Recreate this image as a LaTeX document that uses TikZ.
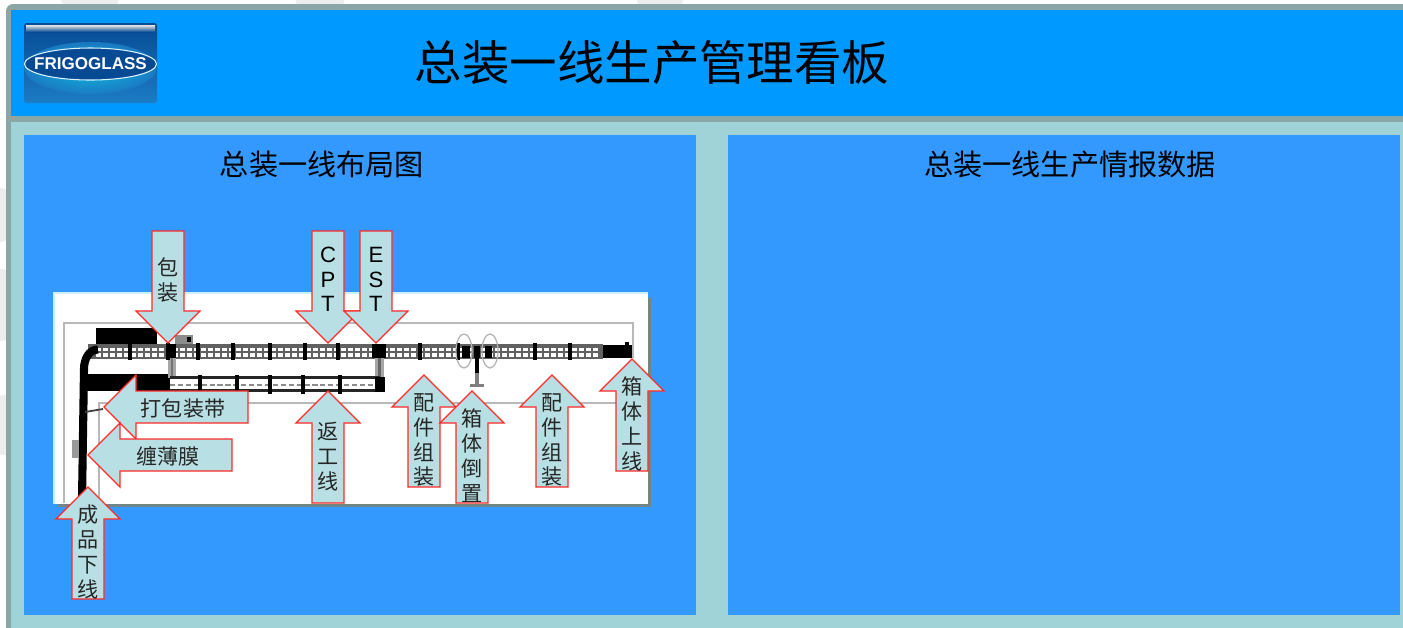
\documentclass[tikz,border=0pt]{standalone}
\usepackage{fontspec}
\setmainfont{Liberation Sans}
\newfontfamily\cjk{Noto Sans CJK SC}
\definecolor{framegray}{HTML}{8AA6A6}
\definecolor{headblue}{HTML}{0099FF}
\definecolor{panelblue}{HTML}{3399FF}
\definecolor{paneltint}{HTML}{9FD3D7}
\definecolor{arrowtint}{HTML}{B8DFE3}
\definecolor{arrowred}{HTML}{FF2A2A}
\definecolor{logodark}{HTML}{064A94}
\definecolor{logomid}{HTML}{1C7CC4}
\definecolor{shadowgray}{HTML}{708686}
\tikzset{
	panel/.style={fill=panelblue,draw=none},
	arrowbox/.style={draw=arrowred,fill=arrowtint,line width=0.75pt,line join=miter},
	arrowtext/.style={inner sep=0pt,align=center,text=black!85,font=\cjk\fontsize{12}{14.2}\selectfont},
	latintext/.style={inner sep=0pt,align=center,font=\fontsize{12.6}{14}\selectfont},
	plan/.style={draw=black!28,line width=0.85pt},
	post/.style={draw=black,line width=1.8pt}
}
\newcommand{\calloutarrow}[4]{\draw[arrowbox,shift={(#1,#2)},rotate=#3] (0,0) -- (32,32) -- (16,32) -- (16,#4) -- (-16,#4) -- (-16,32) -- (-32,32) -- cycle;}
\begin{document}
\begin{tikzpicture}[x=0.02cm,y=-0.02cm]
	\useasboundingbox (0,0) rectangle (1403,627);
	\fill[white] (0,0) rectangle (1403,627);
	\fill[black!7] (-6,215) circle (28) (-2,305) circle (36) (6,425) circle (30) (90,-8) circle (30) (320,-8) circle (26) (660,-6) circle (24);
	\fill[framegray,rounded corners=4] (6,4) rectangle (1420,640);
	\fill[headblue] (11,10) rectangle (1420,116);
	\fill[paneltint] (11,122) rectangle (1420,640);
	\fill[panel] (24,135) rectangle (696,615);
	\fill[panel] (728,135) rectangle (1400,615);
	% logo
	\shade[top color=logodark,bottom color=logomid,rounded corners=1.5] (24,23) rectangle (157,103);
	\shade[top color=black!10!white,bottom color=logodark] (26,25) rectangle (155,32);
	\shade[inner color=cyan!55!logomid,outer color=logomid,opacity=0.9] (90.5,68) ellipse (66 and 26);
	\fill[logodark,draw=white!85!cyan,line width=0.6pt] (90.5,64) ellipse (66 and 16);
	\node[inner sep=0pt,text=white,font=\bfseries\fontsize{9.7}{10}\selectfont] (logo) at (90.5,64) {FRIGOGLASS};
	% titles
	\node[inner sep=0pt,font=\cjk\fontsize{27}{28}\selectfont] (title) at (652,63) {总装一线生产管理看板};
	\node[inner sep=0pt,font=\cjk\fontsize{16.6}{18}\selectfont] (layouthead) at (322,164) {总装一线布局图};
	\node[inner sep=0pt,font=\cjk\fontsize{16.6}{18}\selectfont] (datahead) at (1070,164) {总装一线生产情报数据};
	% plan picture
	\fill[shadowgray] (58,298) rectangle (651,507);
	\fill[cyan!20!white] (53,292) rectangle (648,504);
	\fill[white] (55,294) rectangle (648,504);
	\draw[plan] (64,503) -- (64,323) -- (633,323) -- (633,358);
	\draw[plan] (99,503) -- (99,403) -- (617,403);
	\fill[black] (96,328) rectangle (157,345);
	\fill[black!45] (175,335) rectangle (193,345);
	\fill[black] (187,337) rectangle (191,342);
	\fill[black!62] (88,344) rectangle (603,359);
	\foreach \px in {96,103,...,598} {
		\fill[white] (\px,347.5) rectangle ++(4.5,3.5);
		\fill[white] (\px,353) rectangle ++(4.5,3.5);
	}
	\fill[black] (603,345) rectangle (632,358);
	\draw[post] (627,345) -- (627,342);
	\draw[black,line width=4.6pt] (98,349.5) to[out=180,in=90] (84,369) -- (82,500);
	\fill[black] (86,374) rectangle (170,391);
	\fill[black!35] (168,358) rectangle (176,378);
	\fill[black!55] (171,358) rectangle (173,378);
	\fill[black!35] (375,358) rectangle (384,378);
	\fill[black!60] (378,358) rectangle (381,378);
	\draw[black!85,line width=1.2pt] (170,377.5) -- (380,377.5) (170,390.5) -- (380,390.5);
	\draw[black!45,line width=0.9pt,dash pattern=on 3pt off 1.5pt] (170,385) -- (378,385);
	\foreach \px in {130,168,198,233,270,305,338,420,458,535,570} {
		\draw[post] (\px,343) -- (\px,360);
	}
	\foreach \px in {200,237,270,303,340} {
		\draw[post] (\px,375) -- (\px,394);
	}
	\fill[black] (166,344) rectangle (176,358);
	\fill[black] (372,344) rectangle (386,358);
	\fill[black] (375,377) rectangle (385,392);
	\fill[black] (462,346) rectangle (470,358);
	\fill[black] (474,346) rectangle (480,358);
	\fill[black] (485,346) rectangle (492,358);
	\draw[black!30,line width=0.7pt] (464,351) ellipse (8 and 17) (490,351) ellipse (8 and 17);
	\draw[black,line width=2.4pt] (477,358) -- (477,373);
	\draw[black!50,line width=2.4pt] (477,373) -- (477,385);
	\draw[black!50,line width=1.8pt] (470,385.5) -- (484,385.5);
	\fill[black!40] (72,440) rectangle (79,458);
	\draw[black!75,line width=1pt] (85,412) -- (103,409);
	% arrows
	\calloutarrow{168}{343}{180}{112}
	\node[arrowtext] (pack) at (168,280) {包\\装};
	\calloutarrow{328}{343}{180}{112}
	\node[latintext] (cpt) at (328,279.5) {C\\P\\T};
	\calloutarrow{376}{343}{180}{112}
	\node[latintext] (est) at (376,279.5) {E\\S\\T};
	\calloutarrow{104}{407}{90}{144}
	\node[arrowtext] (strap) at (183,408) {打包装带};
	\calloutarrow{88}{455}{90}{144}
	\node[arrowtext] (film) at (168,456) {缠薄膜};
	\calloutarrow{328}{391}{0}{112}
	\node[arrowtext] (rework) at (328,457) {返\\工\\线};
	\calloutarrow{424}{375}{0}{112}
	\node[arrowtext] (partsa) at (424,440) {配\\件\\组\\装};
	\calloutarrow{472}{391}{0}{112}
	\node[arrowtext] (invert) at (472,456) {箱\\体\\倒\\置};
	\calloutarrow{552}{375}{0}{112}
	\node[arrowtext] (partsb) at (552,440) {配\\件\\组\\装};
	\calloutarrow{632}{359}{0}{112}
	\node[arrowtext] (online) at (632,424) {箱\\体\\上\\线};
	\calloutarrow{88}{487}{0}{112}
	\node[arrowtext] (offline) at (88,552) {成\\品\\下\\线};
\end{tikzpicture}
\end{document}
